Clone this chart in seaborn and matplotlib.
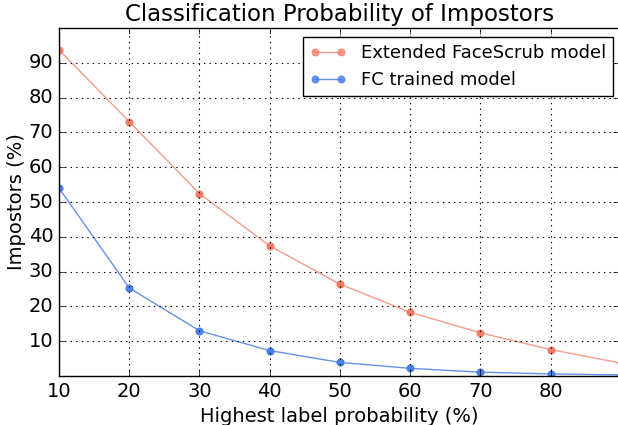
import numpy as np
import pandas as pd
import seaborn as sns
from matplotlib import pyplot as plt

# values
prob = [10, 20, 30, 40, 50, 60, 70, 80, 90]
facescrub = [93.7, 73.1, 52.4, 37.4, 26.4, 18.3, 12.4, 7.6, 3.7]
fc_trained = [54.0, 25.3, 13.0, 7.3, 3.9, 2.2, 1.1, 0.6, 0.3]
names = ['Extended FaceScrub model', 'FC trained model']
colors = ['#f27a64', '#4a7fe6']

df = pd.DataFrame({'prob': prob * 2,
                   'impostors': facescrub + fc_trained,
                   'model': [names[0]] * len(prob) + [names[1]] * len(prob)})

plt.style.use('classic')
fig = plt.figure(figsize=(6.18, 4.25), dpi=100, facecolor='white')
ax = fig.add_axes([59 / 618, 49 / 425, 560.5 / 618, 348 / 425])

for name, col, la in zip(names, colors, [0.75, 0.85]):
    sub = df[df.model == name]
    sns.lineplot(data=sub, x='prob', y='impostors', ax=ax, color=col, lw=1,
                 alpha=la, label=name, estimator=None)
    ax.plot(sub.prob, sub.impostors, 'o', color=col, mec=col, ms=5, alpha=0.9)

ax.set_xlim(10, 89.8)
ax.set_ylim(0, 100)
ax.set_xticks([10, 20, 30, 40, 50, 60, 70, 80])
ax.set_yticks([10, 20, 30, 40, 50, 60, 70, 80, 90])
ax.tick_params(labelsize=14)
ax.grid(True, linestyle=':', color='k', lw=0.8)
ax.set_xlabel('Highest label probability (%)', fontsize=14)
ax.set_ylabel('Impostors (%)', fontsize=14, labelpad=2)
ax.set_title('Classification Probability of Impostors', fontsize=16.5, y=1.0)

h, l = ax.get_legend_handles_labels()
for hh, col in zip(h, colors):
    hh.set_marker('o')
    hh.set_markerfacecolor(col)
    hh.set_markeredgecolor(col)
    hh.set_markersize(5)
leg = ax.legend(h, l, loc='upper right', fontsize=13, numpoints=2,
                fancybox=False, bbox_to_anchor=(613 / 618, 388 / 425),
                bbox_transform=fig.transFigure, borderaxespad=0)
leg.get_frame().set_edgecolor('k')

fig.savefig('out.png', dpi=100, facecolor='white')
